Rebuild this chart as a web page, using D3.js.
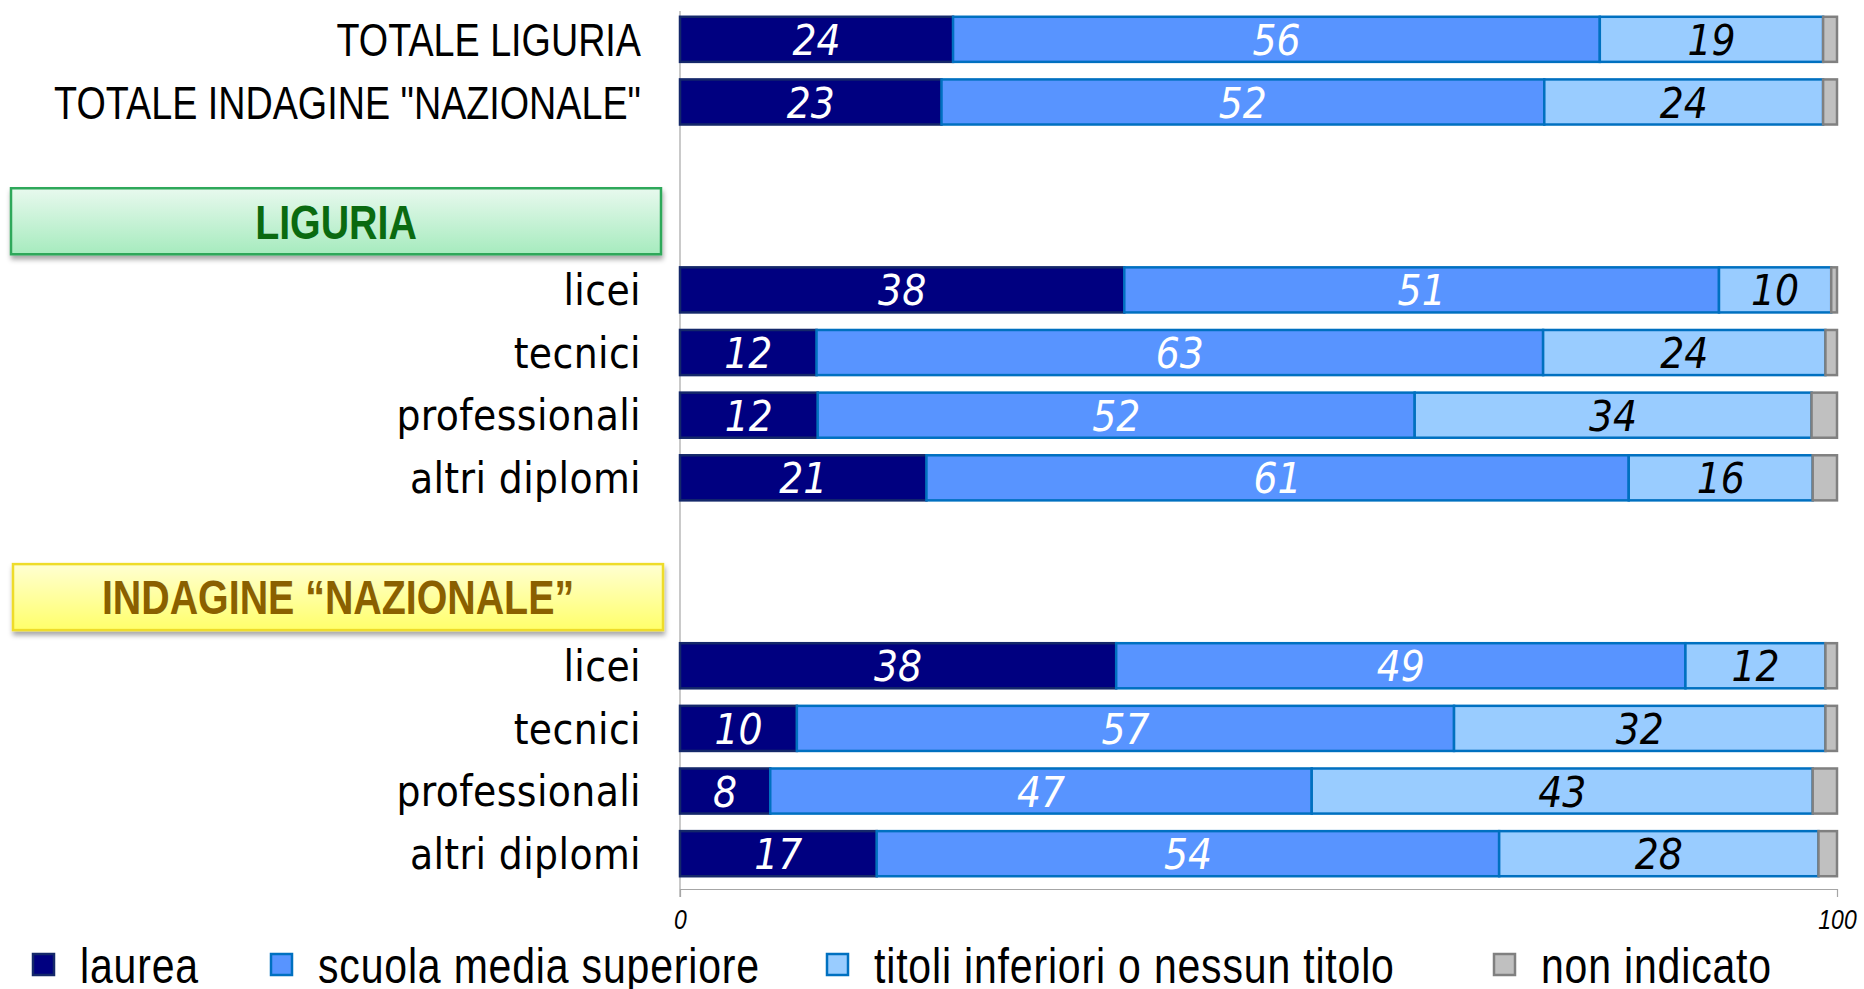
<!DOCTYPE html>
<html>
<head>
<meta charset="utf-8">
<script src="https://cdnjs.cloudflare.com/ajax/libs/d3/7.8.5/d3.min.js"></script>
<style>
  html, body { margin: 0; padding: 0; background: #fff; }
  svg { display: block; }
</style>
</head>
<body>
<div id="chart"></div>
<script>
// row labels, top to bottom (two totals, then Liguria block, then national block)
const totals = ["TOTALE LIGURIA", "TOTALE INDAGINE \"NAZIONALE\""];
const schoolTypes = ["licei", "tecnici", "professionali", "altri diplomi"];
const groupHeaders = ["LIGURIA", "INDAGINE \u201CNAZIONALE\u201D"];

// series, one value per bar in the same order (totali, liguria x4, nazionale x4)
const seriesKeys = ["laurea", "scuola media superiore", "titoli inferiori o nessun titolo", "non indicato"];
const laurea          = [23.6, 22.6, 38.4, 11.8, 11.9, 21.3, 37.7, 10.1,  7.8, 17.0];
const scuolaMedia     = [55.9, 52.1, 51.4, 62.8, 51.6, 60.7, 49.2, 56.8, 46.8, 53.8];
const titoliInferiori = [19.3, 24.1,  9.7, 24.4, 34.3, 15.9, 12.1, 32.1, 43.3, 27.6];
const nonIndicato     = [ 1.2,  1.2,  0.5,  1.0,  2.2,  2.1,  1.0,  1.0,  2.1,  1.6];

const xTicks = [0, 100];

const W = 1864, H = 989;
const fills   = ["#000080", "#5894FF", "#99CCFF", "#C0C0C0"];
const strokes = ["#14286A", "#0070C0", "#0070C0", "#808080"];
const textCol = ["#fff", "#fff", "#000", null];
const legendX = [33, 271, 827, 1494];

// no narrow face installed: squeeze Liberation Sans horizontally
const NARROW = "'Liberation Sans Narrow', 'Liberation Sans', Arial, sans-serif";
const SQUEEZE = 0.82;
const HUMAN = "'DejaVu Sans Condensed', 'DejaVu Sans', sans-serif";

// build bar rows and the band domain (with spacer + header rows)
const bars = [];
totals.forEach((t, i) => bars.push({ id: "t" + i, label: t }));
groupHeaders.forEach((g, gi) => {
  schoolTypes.forEach((s, si) => bars.push({ id: "g" + gi + "s" + si, label: s }));
});
bars.forEach((b, i) => {
  b["laurea"] = laurea[i];
  b["scuola media superiore"] = scuolaMedia[i];
  b["titoli inferiori o nessun titolo"] = titoliInferiori[i];
  b["non indicato"] = nonIndicato[i];
});

const domain = ["t0", "t1"];
groupHeaders.forEach((g, gi) => {
  domain.push("sp" + gi, "h" + gi);
  schoolTypes.forEach((s, si) => domain.push("g" + gi + "s" + si));
});

const x = d3.scaleLinear().domain([0, 100]).range([680, 1837]);
const y = d3.scaleBand().domain(domain).range([8, 885])
  .paddingInner(0.28).paddingOuter(0.14);
const yMid = id => y(id) + y.bandwidth() / 2;

const svg = d3.select("#chart").append("svg")
  .attr("width", W).attr("height", H);

const defs = svg.append("defs");
const gGreen = defs.append("linearGradient").attr("id", "gGreen")
  .attr("x1", 0).attr("y1", 0).attr("x2", 0).attr("y2", 1);
gGreen.append("stop").attr("offset", "0%").attr("stop-color", "#E8F9EE");
gGreen.append("stop").attr("offset", "100%").attr("stop-color", "#A6EBBE");
const gYellow = defs.append("linearGradient").attr("id", "gYellow")
  .attr("x1", 0).attr("y1", 0).attr("x2", 0).attr("y2", 1);
gYellow.append("stop").attr("offset", "0%").attr("stop-color", "#FFFFD2");
gYellow.append("stop").attr("offset", "100%").attr("stop-color", "#FFFF6A");
const shadow = defs.append("filter").attr("id", "shadow")
  .attr("x", "-5%").attr("y", "-20%").attr("width", "110%").attr("height", "150%");
shadow.append("feDropShadow").attr("dx", 1).attr("dy", 4).attr("stdDeviation", 2.5)
  .attr("flood-color", "#000").attr("flood-opacity", 0.35);

// axes
svg.append("line")
  .attr("x1", x(0)).attr("x2", x(0))
  .attr("y1", 11).attr("y2", 897)
  .attr("stroke", "#A6A6A6").attr("stroke-width", 1.2);

const xAxis = svg.append("g")
  .attr("transform", `translate(0,889)`)
  .call(d3.axisBottom(x).tickValues(xTicks).tickSize(8).tickPadding(12).tickSizeOuter(0));
xAxis.select(".domain").attr("stroke", "#A6A6A6").attr("stroke-width", 1.2);
xAxis.selectAll(".tick line").attr("stroke", "#A6A6A6").attr("stroke-width", 1.2);
xAxis.selectAll(".tick text")
  .attr("fill", "#000")
  .attr("transform", `scale(${SQUEEZE},1)`)
  .style("font-family", NARROW)
  .style("font-style", "italic")
  .style("font-size", "28px");

// stacked bars
const stacked = d3.stack().keys(seriesKeys)(bars);
const layers = svg.append("g").selectAll("g")
  .data(stacked).join("g");

layers.selectAll("rect")
  .data((d, i) => d.map(s => ({ s, i })))
  .join("rect")
  .attr("x", d => x(d.s[0]))
  .attr("y", d => y(d.s.data.id))
  .attr("width", d => x(d.s[1]) - x(d.s[0]))
  .attr("height", y.bandwidth())
  .attr("fill", d => fills[d.i])
  .attr("stroke", d => strokes[d.i])
  .attr("stroke-width", 2.5);

layers.filter((d, i) => textCol[i] !== null)
  .selectAll("text")
  .data((d) => d.map(s => ({ s, i: d.index })))
  .join("text")
  .attr("x", d => (x(d.s[0]) + x(d.s[1])) / 2)
  .attr("y", d => yMid(d.s.data.id))
  .attr("dy", "0.37em")
  .attr("text-anchor", "middle")
  .attr("fill", d => textCol[d.i])
  .style("font-family", HUMAN)
  .style("font-stretch", "condensed")
  .style("font-style", "italic")
  .style("font-size", "42px")
  .text(d => d3.format(".0f")(d.s[1] - d.s[0]));

// row labels
const isTotal = d => d.id[0] === "t";
svg.append("g").selectAll("text")
  .data(bars)
  .join("text")
  .attr("transform", d => `translate(641,${yMid(d.id)})` + (isTotal(d) ? ` scale(${SQUEEZE},1)` : ""))
  .attr("dy", "0.36em")
  .attr("text-anchor", "end")
  .attr("fill", "#000")
  .style("font-family", d => isTotal(d) ? NARROW : HUMAN)
  .style("font-stretch", d => isTotal(d) ? null : "condensed")
  .style("font-size", d => isTotal(d) ? "46px" : "42px")
  .style("letter-spacing", d => isTotal(d) ? null : "0.4px")
  .text(d => d.label);

// group header boxes
const headerStyle = [
  { fill: "url(#gGreen)", stroke: "#2FA85A", text: "#0A6A10" },
  { fill: "url(#gYellow)", stroke: "#EEDC2A", text: "#8A6000" }
];
const hdr = svg.append("g").selectAll("g")
  .data(groupHeaders)
  .join("g")
  .attr("transform", (d, i) => `translate(0,${yMid("h" + i) - 6})`);
hdr.append("rect")
  .attr("x", (d, i) => 11 + i * 2).attr("y", -33)
  .attr("width", 650).attr("height", 66)
  .attr("fill", (d, i) => headerStyle[i].fill)
  .attr("stroke", (d, i) => headerStyle[i].stroke)
  .attr("stroke-width", 2.5)
  .attr("filter", "url(#shadow)");
hdr.append("text")
  .attr("transform", (d, i) => `translate(${336 + i * 2},0) scale(${SQUEEZE},1)`)
  .attr("dy", "0.36em")
  .attr("text-anchor", "middle")
  .attr("fill", (d, i) => headerStyle[i].text)
  .style("font-family", NARROW)
  .style("font-size", "48px")
  .style("font-weight", "600")
  .text(d => d);

// legend
const legend = svg.append("g").attr("transform", "translate(0,965)");
seriesKeys.forEach((k, i) => {
  const item = legend.append("g").attr("transform", `translate(${legendX[i]},0)`);
  item.append("rect")
    .attr("x", 0).attr("y", -11).attr("width", 21).attr("height", 21)
    .attr("fill", fills[i]).attr("stroke", strokes[i]).attr("stroke-width", 2.5);
  item.append("text")
    .attr("transform", `translate(47,0) scale(${SQUEEZE},1)`)
    .attr("dy", "0.36em")
    .attr("fill", "#000")
    .style("font-family", NARROW)
    .style("font-size", "50px")
    .style("letter-spacing", "1px")
    .text(k);
});
</script>
</body>
</html>
